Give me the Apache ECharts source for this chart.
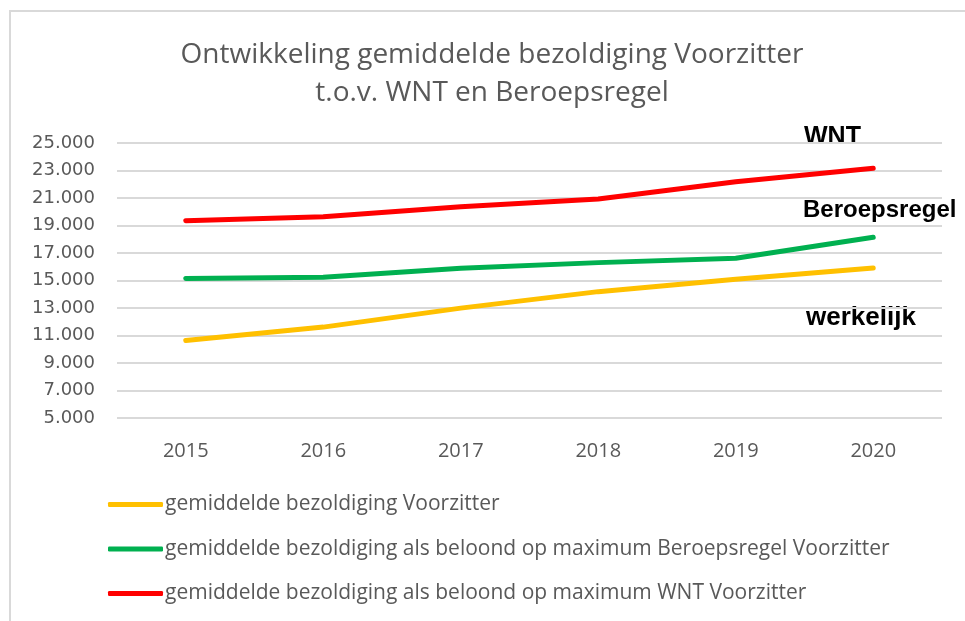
<!DOCTYPE html>
<html>
<head>
<meta charset="utf-8">
<script src="https://cdn.jsdelivr.net/npm/echarts@6/dist/echarts.min.js"></script>
<style>
  html, body { margin: 0; padding: 0; background: #fff; }
  #chart { width: 965px; height: 621px; }
</style>
</head>
<body>
<div id="chart"></div>
<script>
// jaren op de x-as
var years = ["2015", "2016", "2017", "2018", "2019", "2020"];
// werkelijke gemiddelde bezoldiging
var werkelijk = [10640, 11610, 12990, 14190, 15090, 15910];
// maximum Beroepsregel
var beroepsregel = [15140, 15240, 15890, 16300, 16620, 18140];
// maximum WNT
var wnt = [19350, 19640, 20370, 20930, 22180, 23160];

var seriesNames = [
  "gemiddelde bezoldiging Voorzitter",
  "gemiddelde bezoldiging als beloond op maximum Beroepsregel Voorzitter",
  "gemiddelde bezoldiging als beloond op maximum WNT Voorzitter"
];

var grey = "#595959";
var font = "'Open Sans', sans-serif";
var labelFont = "bold 25px 'Liberation Sans', Arial, sans-serif";

var myChart = echarts.init(document.getElementById("chart"));

var option = {
  backgroundColor: "#fff",
  animation: false,
  title: {
    text: "Ontwikkeling gemiddelde bezoldiging Voorzitter\nt.o.v. WNT en Beroepsregel",
    left: 487,
    textAlign: "center",
    top: 31,
    textStyle: {
      color: grey,
      fontFamily: font,
      fontWeight: "normal",
      fontSize: 28,
      lineHeight: 38
    }
  },
  grid: {
    left: 117,
    right: 23,
    top: 143,
    bottom: 203
  },
  legend: {
    orient: "vertical",
    left: 103,
    top: 489,
    itemGap: 23.5,
    itemWidth: 55,
    itemHeight: 5,
    icon: "roundRect",
    textStyle: { color: grey, fontFamily: font, fontSize: 21, padding: [0, 0, 0, -3] },
    data: seriesNames
  },
  xAxis: {
    type: "category",
    data: years,
    boundaryGap: true,
    axisLine: { show: false },
    axisTick: { show: false },
    axisLabel: {
      color: grey,
      fontFamily: font,
      fontSize: 20,
      margin: 23
    }
  },
  yAxis: {
    type: "value",
    min: 5000,
    max: 25000,
    interval: 2000,
    axisLine: { show: false },
    axisTick: { show: false },
    splitLine: { lineStyle: { color: "#d9d9d9", width: 2 } },
    axisLabel: {
      color: grey,
      fontFamily: "'DejaVu Sans', sans-serif",
      fontSize: 18,
      margin: 22,
      formatter: function (v) {
        return v.toLocaleString("nl-NL");
      }
    }
  },
  series: [
    {
      name: seriesNames[0],
      type: "line",
      data: werkelijk,
      showSymbol: false,
      lineStyle: { color: "#ffc000", width: 5, cap: "round" },
      itemStyle: { color: "#ffc000" }
    },
    {
      name: seriesNames[1],
      type: "line",
      data: beroepsregel,
      showSymbol: false,
      lineStyle: { color: "#00b050", width: 5, cap: "round" },
      itemStyle: { color: "#00b050" }
    },
    {
      name: seriesNames[2],
      type: "line",
      data: wnt,
      showSymbol: false,
      lineStyle: { color: "#ff0000", width: 5, cap: "round" },
      itemStyle: { color: "#ff0000" }
    }
  ],
  graphic: [
    // kader rond de grafiek
    {
      type: "rect",
      shape: { x: 10, y: 11, width: 970, height: 620 },
      style: { fill: null, stroke: "#d9d9d9", lineWidth: 2 },
      silent: true
    },
    {
      type: "text",
      left: 798,
      top: 125,
      style: { text: "WNT", fill: "#000", font: labelFont, backgroundColor: "#fff", padding: [0, 6] }
    },
    {
      type: "text",
      left: 797,
      top: 198,
      style: { text: "Beroepsregel", fill: "#000", font: "bold 24px 'Liberation Sans', Arial, sans-serif", backgroundColor: "#fff", padding: [0, 6] }
    },
    {
      type: "text",
      left: 800,
      top: 305,
      style: { text: "werkelijk", fill: "#000", font: "bold 26px 'Liberation Sans', Arial, sans-serif", backgroundColor: "#fff", padding: [0, 6] }
    }
  ]
};

myChart.setOption(option);
window.onresize = function () {
  myChart.resize();
};
</script>
</body>
</html>
